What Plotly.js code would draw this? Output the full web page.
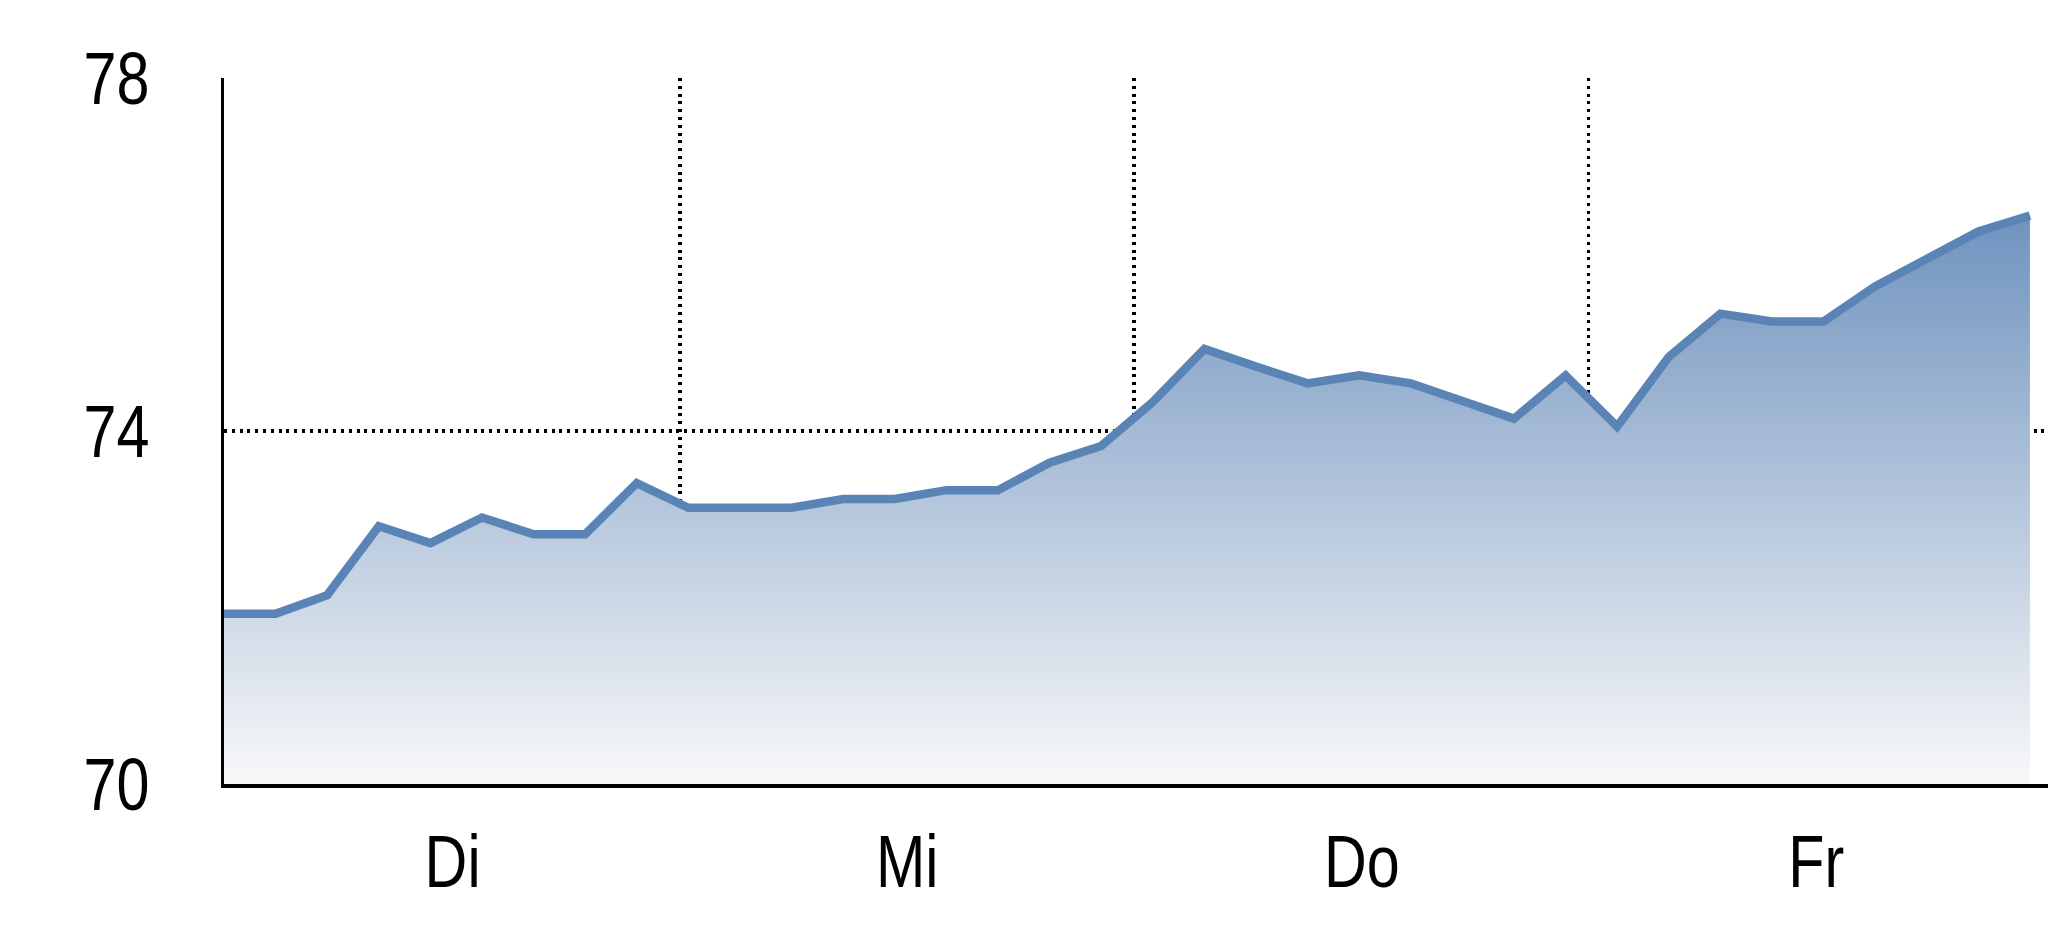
<!DOCTYPE html>
<html>
<head>
<meta charset="utf-8">
<script src="https://cdn.plot.ly/plotly-3.0.1.min.js"></script>
<style>
  html, body { margin: 0; padding: 0; background: #ffffff; }
  #chart { width: 2048px; height: 937px; }
</style>
</head>
<body>
<div id="chart"></div>
<script>
// ---- data ----
const slots = [0,1,2,3,4,5,6,7,8,9,10,11,12,13,14,15,16,17,18,19,20,21,22,23,24,25,26,27,28,29,30,31,32,33,34,35];
const values = [71.93, 71.93, 72.14, 72.92, 72.73, 73.02, 72.83, 72.83, 73.41,
                73.13, 73.13, 73.13, 73.23, 73.23, 73.33, 73.33, 73.64, 73.83,
                74.33, 74.93, 74.73, 74.54, 74.63, 74.54, 74.34, 74.14, 74.63,
                74.05, 74.84, 75.33, 75.24, 75.24, 75.64, 75.94, 76.26, 76.44];
const dayLabels = ['Di', 'Mi', 'Do', 'Fr'];
const dayCenters = [4.43, 13.24, 22.05, 30.86];
const dayBoundaries = [8.84, 17.64, 26.45];
const yTicks = [70, 74, 78];
const yGrid = [74];

const font = { family: '"Liberation Sans", Arial, sans-serif', size: 75, color: '#000000' };
const gridStyle = { gridcolor: '#000000', gridwidth: 3.4, griddash: '3px,4.8px' };

const trace = {
  x: slots,
  y: values,
  type: 'scatter',
  mode: 'lines',
  line: { color: '#5A84B6', width: 8.5 },
  fill: 'tozeroy',
  fillgradient: {
    type: 'vertical',
    start: 70,
    stop: 76.5,
    colorscale: [[0, '#F8F8F9'], [1, '#6E92BE']]
  },
  cliponaxis: false,
  hoverinfo: 'skip',
  showlegend: false
};

const layout = {
  width: 2048,
  height: 937,
  margin: { l: 224, r: 0, t: 78, b: 153, pad: 0 },
  paper_bgcolor: '#ffffff',
  plot_bgcolor: '#ffffff',
  font: font,
  showlegend: false,
  xaxis: {
    range: [0, 35.35],
    tickmode: 'array',
    tickvals: dayCenters,
    ticktext: dayLabels,
    ticks: '',
    showgrid: false,
    zeroline: false,
    showline: true,
    linecolor: '#000000',
    linewidth: 3.5,
    layer: 'above traces',
    ticklabelstandoff: 9,
    tickfont: font,
    minor: Object.assign({ tickmode: 'array', tickvals: dayBoundaries, ticks: '', showgrid: true }, gridStyle)
  },
  yaxis: {
    range: [70, 78],
    tickmode: 'array',
    tickvals: yTicks,
    ticktext: yTicks.map(String),
    ticks: '',
    showgrid: false,
    zeroline: false,
    showline: true,
    linecolor: '#000000',
    linewidth: 3.5,
    ticklabelstandoff: 56,
    tickfont: font,
    minor: Object.assign({ tickmode: 'array', tickvals: yGrid, ticks: '', showgrid: true }, gridStyle)
  }
};

Plotly.newPlot('chart', [trace], layout, { staticPlot: true, displayModeBar: false }).then(function (gd) {
  // condensed look of the original labels
  gd.querySelectorAll('.xtick text, .ytick text').forEach(function (t) {
    const w = t.getComputedTextLength();
    t.setAttribute('textLength', (w * 0.79).toFixed(2));
    t.setAttribute('lengthAdjust', 'spacingAndGlyphs');
  });
});
</script>
</body>
</html>
